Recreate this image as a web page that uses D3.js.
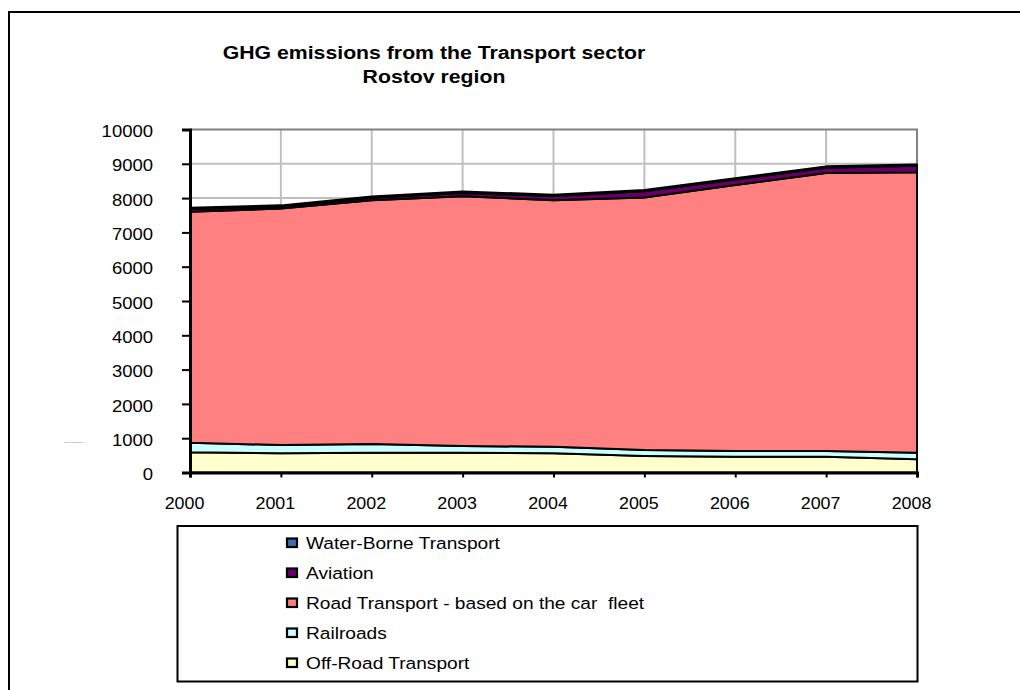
<!DOCTYPE html>
<html><head><meta charset="utf-8">
<script src="https://cdn.jsdelivr.net/npm/d3@7"></script>
<style>body{margin:0;background:#fff;}svg{display:block;font-family:Arial,"Liberation Sans",sans-serif;}</style>
</head><body>
<svg id="c" width="1020" height="690"></svg>
<script>
const years = [2000, 2001, 2002, 2003, 2004, 2005, 2006, 2007, 2008];
const offRoad = [589, 559, 577, 577, 559, 481, 460, 460, 385];
const railroads = [279, 242, 253, 195, 193, 175, 166, 166, 192];
const roadTransport = [6731, 6897, 7110, 7284, 7188, 7363, 7754, 8109, 8173];
const aviation = [80, 50, 70, 90, 120, 180, 160, 150, 190];
const waterBorne = [40, 40, 40, 45, 40, 40, 40, 40, 40];
const yTicks = [0, 1000, 2000, 3000, 4000, 5000, 6000, 7000, 8000, 9000, 10000];
const seriesNames = ["Off-Road Transport", "Railroads", "Road Transport - based on the car  fleet", "Aviation", "Water-Borne Transport"];
const seriesColors = ["#FFFFCC", "#CCFFFF", "#FF8080", "#660066", "#3F6FA8"];
const titleLines = ["GHG emissions from the Transport sector", "Rostov region"];

const seriesValues = [offRoad, railroads, roadTransport, aviation, waterBorne];
const rows = years.map((y, i) => {
  const r = {year: y};
  seriesNames.forEach((n, k) => r[n] = seriesValues[k][i]);
  return r;
});

const FONT = "Arial, 'Liberation Sans', sans-serif";
function stretch(sel, k) {
  sel.each(function () {
    const w = this.getComputedTextLength();
    d3.select(this).attr("textLength", w * k).attr("lengthAdjust", "spacingAndGlyphs");
  });
}

const svg = d3.select("#c");
svg.append("rect").attr("x", 9).attr("y", 12).attr("width", 1030).attr("height", 700)
  .attr("fill", "none").attr("stroke", "#000").attr("stroke-width", 2);

const L = 190, R = 917, T = 129.5, B = 472.5;
const x = d3.scaleLinear().domain([2000, 2008]).range([L, R]);
const y = d3.scaleLinear().domain([0, 10000]).range([B, T]);

// title
const tt = svg.append("g").selectAll("text").data(titleLines).join("text")
  .attr("x", 434).attr("y", (d, i) => 59 + i * 24)
  .attr("text-anchor", "middle").attr("font-weight", "bold").attr("font-size", 18)
  .attr("font-family", FONT).attr("fill", "#000").text(d => d);
stretch(tt, 1.18);

// gridlines
const g = svg.append("g");
g.selectAll("line.h").data(yTicks.filter(d => d > 0 && d < 10000)).join("line")
  .attr("x1", L).attr("x2", R).attr("y1", d => y(d)).attr("y2", d => y(d))
  .attr("stroke", "#C0C0C0").attr("stroke-width", 2);
g.selectAll("line.v").data(years.filter(d => d > 2000 && d < 2008)).join("line")
  .attr("y1", T).attr("y2", B).attr("x1", d => x(d)).attr("x2", d => x(d))
  .attr("stroke", "#C0C0C0").attr("stroke-width", 2);
g.append("path").attr("d", `M${L},${T}H${R}V${B}`).attr("fill", "none")
  .attr("stroke", "#808080").attr("stroke-width", 2);

// stacked areas
const stack = d3.stack().keys(seriesNames);
const layers = stack(rows);
const area = d3.area().x(d => x(d.data.year)).y0(d => y(d[0])).y1(d => y(d[1]));
svg.append("g").selectAll("path").data(layers).join("path")
  .attr("d", area).attr("fill", (d, i) => seriesColors[i])
  .attr("stroke", "#000").attr("stroke-width", 2).attr("stroke-linejoin", "round");

// axes
const yAxis = d3.axisLeft(y).tickValues(yTicks).tickSize(8).tickFormat(d3.format("d"));
const ya = svg.append("g").attr("transform", `translate(${L},0)`).call(yAxis);
ya.select(".domain").attr("stroke", "#000").attr("stroke-width", 3);
ya.selectAll(".tick line").attr("stroke", "#000").attr("stroke-width", 2);
const yt = ya.selectAll(".tick text").attr("font-size", 16.5).attr("font-family", FONT)
  .attr("fill", "#000").attr("x", -37).attr("dy", "0.43em");
stretch(yt, 1.12);

const xAxis = d3.axisBottom(x).tickValues(years).tickSize(5).tickFormat(d3.format("d"));
const xa = svg.append("g").attr("transform", `translate(0,${B})`).call(xAxis);
xa.select(".domain").attr("stroke", "#000").attr("stroke-width", 3);
xa.selectAll(".tick line").attr("stroke", "#000").attr("stroke-width", 2);
const xt = xa.selectAll(".tick text").attr("font-size", 17).attr("font-family", FONT)
  .attr("fill", "#000").attr("x", -6).attr("y", 36).attr("dy", 0);
stretch(xt, 1.05);

// tiny artifacts
svg.append("text").attr("x", 70).attr("y", 311).attr("font-size", 2).attr("fill", "#888").text(".");
svg.append("text").attr("x", 64).attr("y", 443).attr("font-size", 2.5).attr("fill", "#666").text("Total 1 data 2000 ---");

// legend
svg.append("rect").attr("x", 177.5).attr("y", 526).attr("width", 740).attr("height", 155.5)
  .attr("fill", "#fff").attr("stroke", "#000").attr("stroke-width", 2);
const legendOrder = [4, 3, 2, 1, 0];
const lg = svg.append("g").selectAll("g").data(legendOrder).join("g")
  .attr("transform", (d, i) => `translate(287,${549 + i * 30})`);
lg.append("rect").attr("x", 0).attr("y", -10.5).attr("width", 10).attr("height", 8.5)
  .attr("fill", d => seriesColors[d]).attr("stroke", "#000").attr("stroke-width", 2.2);
const lt = lg.append("text").attr("x", 19).attr("y", 0).attr("font-size", 16.8).attr("font-family", FONT)
  .attr("fill", "#000").style("white-space", "pre").text(d => seriesNames[d]);
stretch(lt, 1.14);
</script>
</body></html>
